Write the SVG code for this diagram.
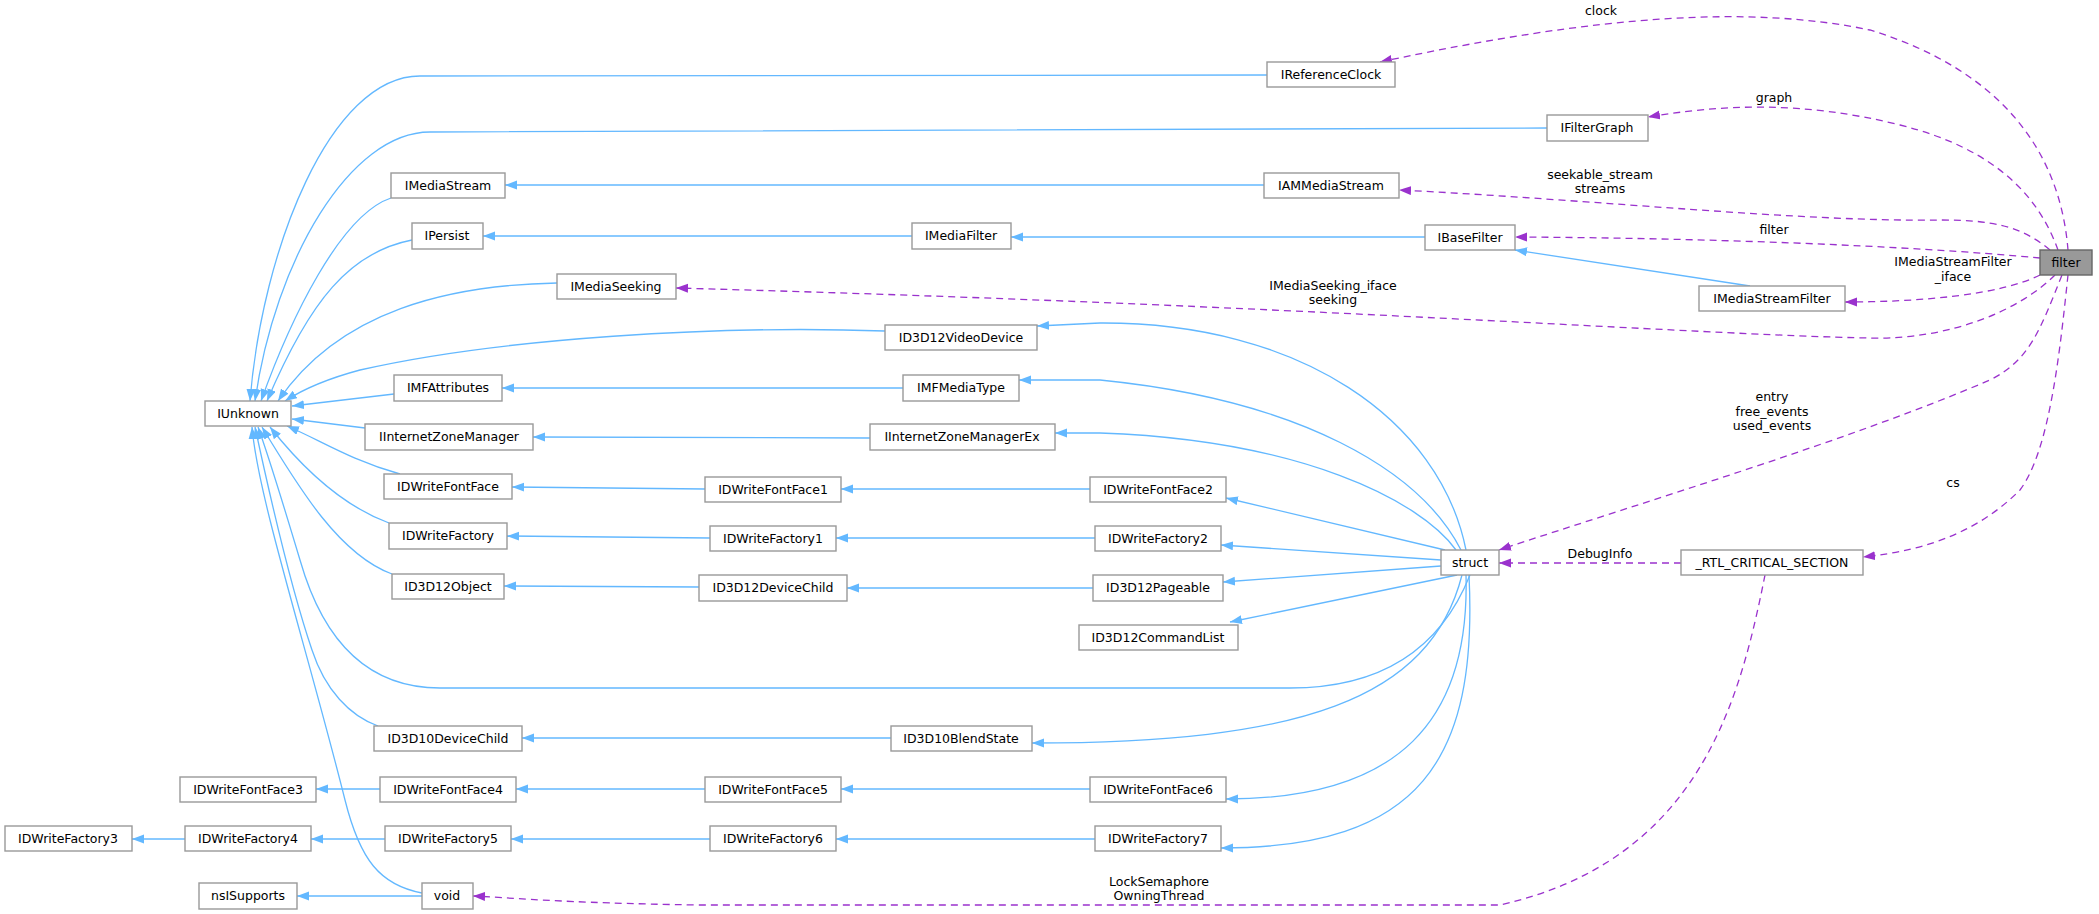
<svg xmlns="http://www.w3.org/2000/svg" width="2099" height="914" viewBox="0 0 2099 914">
<style>
.n rect{fill:#fff;stroke:#999;stroke-width:1.4}
.n text,.l{font-family:"DejaVu Sans",sans-serif;font-size:12.5px;fill:#000;text-anchor:middle}
.b{fill:none;stroke:#63b8ff;stroke-width:1.3;marker-end:url(#ab)}
.p{fill:none;stroke:#9a32cd;stroke-width:1.3;stroke-dasharray:7,5;marker-end:url(#ap)}
</style>
<defs>
<marker id="ab" markerUnits="userSpaceOnUse" markerWidth="13" markerHeight="10" refX="12" refY="4.5" orient="auto"><path d="M0,0 L12,4.5 L0,9 z" fill="#63b8ff"/></marker>
<marker id="ap" markerUnits="userSpaceOnUse" markerWidth="13" markerHeight="10" refX="12" refY="4.5" orient="auto"><path d="M0,0 L12,4.5 L0,9 z" fill="#9a32cd"/></marker>
</defs>
<rect width="2099" height="914" fill="#fff"/>
<g id="connectors">
<path class="b" d="M1267,75 L420,76 C330,76 262,250 250,401"/>
<path class="b" d="M1547,128 L430,132 C350,132 275,260 255,401"/>
<path class="b" d="M391,198 C340,215 290,320 261,401"/>
<path class="b" d="M412,240 C350,252 310,300 267,401"/>
<path class="b" d="M557,283 C450,285 340,310 278,401"/>
<path class="b" d="M885,331 C720,325 500,338 360,370 C330,378 305,388 285,401"/>
<path class="b" d="M394,394 L292,406"/>
<path class="b" d="M365,428 L292,419"/>
<path class="b" d="M400,474 C350,460 320,440 287,426"/>
<path class="b" d="M389,523 C340,505 300,465 270,427"/>
<path class="b" d="M392,574 C340,555 300,490 262,427"/>
<path class="b" d="M1470,575 C1440,650 1380,688 1290,688 L440,688 C360,688 320,630 300,560 C285,510 270,460 258,427"/>
<path class="b" d="M378,726 C350,716 325,690 312,650 C295,600 275,520 255,427"/>
<path class="b" d="M422,893 C380,885 360,860 345,800 C320,700 290,600 270,520 C260,480 254,450 252,427"/>
<path class="b" d="M1264,185 L505,185"/>
<path class="b" d="M912,236 L483,236"/>
<path class="b" d="M1425,237 L1011,237"/>
<path class="b" d="M1750,286 L1515,250"/>
<path class="b" d="M903,388 L502,388"/>
<path class="b" d="M870,438 L533,437"/>
<path class="b" d="M705,489 L512,487"/>
<path class="b" d="M1090,489 L841,489"/>
<path class="b" d="M710,538 L507,536"/>
<path class="b" d="M1095,538 L836,538"/>
<path class="b" d="M699,587 L504,586"/>
<path class="b" d="M1093,588 L847,588"/>
<path class="b" d="M891,738 L522,738"/>
<path class="b" d="M380,789 L316,789"/>
<path class="b" d="M705,789 L516,789"/>
<path class="b" d="M1090,789 L841,789"/>
<path class="b" d="M185,839 L132,839"/>
<path class="b" d="M385,839 L311,839"/>
<path class="b" d="M710,839 L511,839"/>
<path class="b" d="M1095,839 L836,839"/>
<path class="b" d="M422,896 L297,896"/>
<path class="b" d="M1466,550 C1440,420 1300,322 1100,323 L1037,326"/>
<path class="b" d="M1461,550 C1420,470 1300,400 1100,380 L1019,380"/>
<path class="b" d="M1456,550 C1420,500 1300,440 1100,433 L1055,433"/>
<path class="b" d="M1445,550 L1226,498"/>
<path class="b" d="M1441,560 L1221,545"/>
<path class="b" d="M1441,566 L1223,582"/>
<path class="b" d="M1457,575 L1230,622"/>
<path class="b" d="M1462,575 C1430,700 1300,743 1032,743"/>
<path class="b" d="M1466,575 C1470,720 1400,799 1226,799"/>
<path class="b" d="M1469,575 C1478,760 1420,848 1221,848"/>
<path class="p" d="M2068,250 C2060,150 2000,70 1870,30 C1750,5 1600,15 1380,62"/>
<path class="p" d="M2058,250 C2040,200 2000,150 1900,125 C1800,100 1720,105 1648,117"/>
<path class="p" d="M2050,250 C2020,225 1990,220 1940,220 C1800,222 1600,200 1399,190"/>
<path class="p" d="M2040,258 C1900,245 1700,238 1515,237"/>
<path class="p" d="M2040,275 C2000,295 1920,302 1845,302"/>
<path class="p" d="M2055,275 C2020,310 1950,340 1870,338 C1700,335 1300,305 676,288"/>
<path class="p" d="M2062,275 C2040,330 2030,360 1990,380 C1850,440 1650,500 1499,550"/>
<path class="p" d="M2068,275 C2060,350 2050,450 2020,490 C1980,530 1930,550 1863,557"/>
<path class="p" d="M1681,563 L1499,563"/>
<path class="p" d="M1765,575 C1740,700 1700,860 1500,905 L700,905 C560,903 500,897 473,896"/>
</g>
<g class="l">
<text class="l" x="1601" y="15">clock</text>
<text class="l" x="1774" y="102">graph</text>
<text class="l" x="1600" y="179">seekable_stream</text>
<text class="l" x="1600" y="193">streams</text>
<text class="l" x="1774" y="234">filter</text>
<text class="l" x="1953" y="266">IMediaStreamFilter</text>
<text class="l" x="1953" y="281">_iface</text>
<text class="l" x="1333" y="290">IMediaSeeking_iface</text>
<text class="l" x="1333" y="304">seeking</text>
<text class="l" x="1772" y="401">entry</text>
<text class="l" x="1772" y="416">free_events</text>
<text class="l" x="1772" y="430">used_events</text>
<text class="l" x="1953" y="487">cs</text>
<text class="l" x="1600" y="558">DebugInfo</text>
<text class="l" x="1159" y="886">LockSemaphore</text>
<text class="l" x="1159" y="900">OwningThread</text>
</g>
<g id="filter" class="n"><rect x="2040" y="250" width="52" height="25" style="fill:#999;stroke:#666"/><text x="2066" y="267">filter</text></g>
<g id="IReferenceClock" class="n"><rect x="1267" y="62" width="128" height="25"/><text x="1331" y="79">IReferenceClock</text></g>
<g id="IFilterGraph" class="n"><rect x="1547" y="115" width="101" height="26"/><text x="1597" y="132">IFilterGraph</text></g>
<g id="IMediaStream" class="n"><rect x="391" y="173" width="114" height="25"/><text x="448" y="190">IMediaStream</text></g>
<g id="IAMMediaStream" class="n"><rect x="1264" y="173" width="135" height="25"/><text x="1331" y="190">IAMMediaStream</text></g>
<g id="IPersist" class="n"><rect x="412" y="223" width="71" height="26"/><text x="447" y="240">IPersist</text></g>
<g id="IMediaFilter" class="n"><rect x="912" y="223" width="99" height="26"/><text x="961" y="240">IMediaFilter</text></g>
<g id="IBaseFilter" class="n"><rect x="1425" y="225" width="90" height="25"/><text x="1470" y="242">IBaseFilter</text></g>
<g id="IMediaSeeking" class="n"><rect x="557" y="274" width="119" height="25"/><text x="616" y="291">IMediaSeeking</text></g>
<g id="IMediaStreamFilter" class="n"><rect x="1699" y="286" width="146" height="25"/><text x="1772" y="303">IMediaStreamFilter</text></g>
<g id="ID3D12VideoDevice" class="n"><rect x="885" y="325" width="152" height="25"/><text x="961" y="342">ID3D12VideoDevice</text></g>
<g id="IMFAttributes" class="n"><rect x="394" y="375" width="108" height="26"/><text x="448" y="392">IMFAttributes</text></g>
<g id="IMFMediaType" class="n"><rect x="903" y="375" width="116" height="26"/><text x="961" y="392">IMFMediaType</text></g>
<g id="IUnknown" class="n"><rect x="205" y="401" width="86" height="25"/><text x="248" y="418">IUnknown</text></g>
<g id="IInternetZoneManager" class="n"><rect x="365" y="424" width="168" height="26"/><text x="449" y="441">IInternetZoneManager</text></g>
<g id="IInternetZoneManagerEx" class="n"><rect x="870" y="424" width="185" height="26"/><text x="962" y="441">IInternetZoneManagerEx</text></g>
<g id="IDWriteFontFace" class="n"><rect x="384" y="474" width="128" height="25"/><text x="448" y="491">IDWriteFontFace</text></g>
<g id="IDWriteFontFace1" class="n"><rect x="705" y="477" width="136" height="25"/><text x="773" y="494">IDWriteFontFace1</text></g>
<g id="IDWriteFontFace2" class="n"><rect x="1090" y="477" width="136" height="25"/><text x="1158" y="494">IDWriteFontFace2</text></g>
<g id="IDWriteFactory" class="n"><rect x="389" y="523" width="118" height="26"/><text x="448" y="540">IDWriteFactory</text></g>
<g id="IDWriteFactory1" class="n"><rect x="710" y="526" width="126" height="25"/><text x="773" y="543">IDWriteFactory1</text></g>
<g id="IDWriteFactory2" class="n"><rect x="1095" y="526" width="126" height="25"/><text x="1158" y="543">IDWriteFactory2</text></g>
<g id="struct" class="n"><rect x="1441" y="550" width="58" height="25"/><text x="1470" y="567">struct</text></g>
<g id="RTL_CRITICAL_SECTION" class="n"><rect x="1681" y="550" width="182" height="25"/><text x="1772" y="567">_RTL_CRITICAL_SECTION</text></g>
<g id="ID3D12Object" class="n"><rect x="392" y="574" width="112" height="25"/><text x="448" y="591">ID3D12Object</text></g>
<g id="ID3D12DeviceChild" class="n"><rect x="699" y="575" width="148" height="26"/><text x="773" y="592">ID3D12DeviceChild</text></g>
<g id="ID3D12Pageable" class="n"><rect x="1093" y="575" width="130" height="26"/><text x="1158" y="592">ID3D12Pageable</text></g>
<g id="ID3D12CommandList" class="n"><rect x="1079" y="625" width="159" height="25"/><text x="1158" y="642">ID3D12CommandList</text></g>
<g id="ID3D10DeviceChild" class="n"><rect x="374" y="726" width="148" height="25"/><text x="448" y="743">ID3D10DeviceChild</text></g>
<g id="ID3D10BlendState" class="n"><rect x="891" y="726" width="141" height="25"/><text x="961" y="743">ID3D10BlendState</text></g>
<g id="IDWriteFontFace3" class="n"><rect x="180" y="777" width="136" height="25"/><text x="248" y="794">IDWriteFontFace3</text></g>
<g id="IDWriteFontFace4" class="n"><rect x="380" y="777" width="136" height="25"/><text x="448" y="794">IDWriteFontFace4</text></g>
<g id="IDWriteFontFace5" class="n"><rect x="705" y="777" width="136" height="25"/><text x="773" y="794">IDWriteFontFace5</text></g>
<g id="IDWriteFontFace6" class="n"><rect x="1090" y="777" width="136" height="25"/><text x="1158" y="794">IDWriteFontFace6</text></g>
<g id="IDWriteFactory3" class="n"><rect x="5" y="826" width="127" height="25"/><text x="68" y="843">IDWriteFactory3</text></g>
<g id="IDWriteFactory4" class="n"><rect x="185" y="826" width="126" height="25"/><text x="248" y="843">IDWriteFactory4</text></g>
<g id="IDWriteFactory5" class="n"><rect x="385" y="826" width="126" height="25"/><text x="448" y="843">IDWriteFactory5</text></g>
<g id="IDWriteFactory6" class="n"><rect x="710" y="826" width="126" height="25"/><text x="773" y="843">IDWriteFactory6</text></g>
<g id="IDWriteFactory7" class="n"><rect x="1095" y="826" width="126" height="25"/><text x="1158" y="843">IDWriteFactory7</text></g>
<g id="nsISupports" class="n"><rect x="199" y="883" width="98" height="26"/><text x="248" y="900">nsISupports</text></g>
<g id="void" class="n"><rect x="422" y="883" width="51" height="26"/><text x="447" y="900">void</text></g>
</svg>
